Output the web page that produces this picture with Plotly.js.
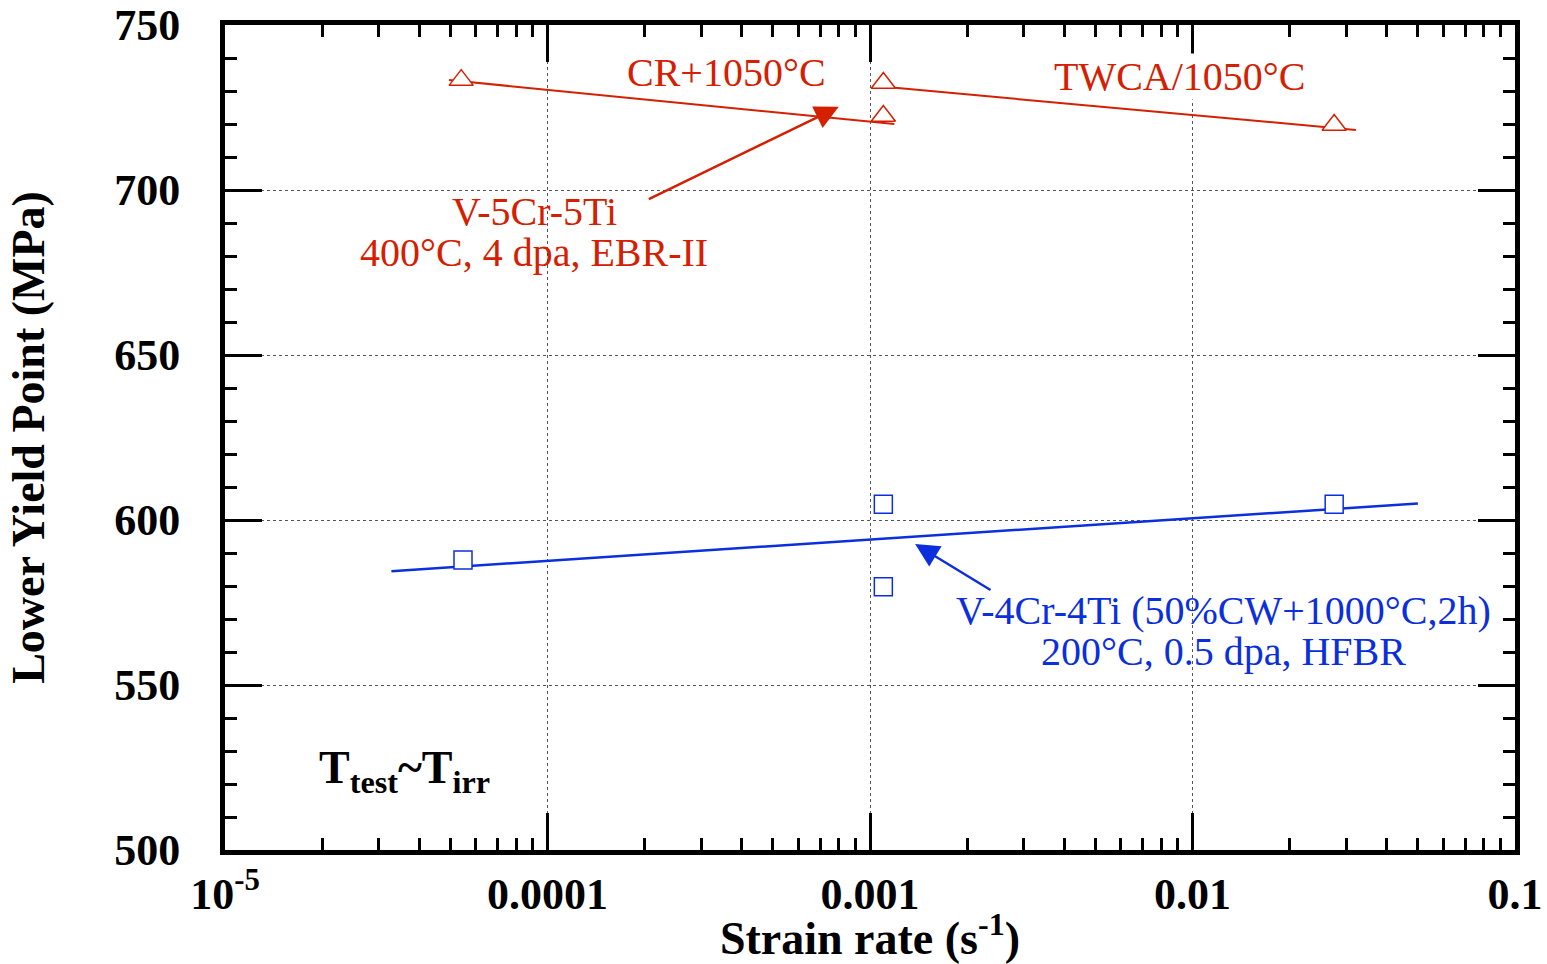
<!DOCTYPE html>
<html>
<head>
<meta charset="utf-8">
<script src="https://cdn.plot.ly/plotly-3.0.1.min.js"></script>
<style>
  html, body { margin: 0; padding: 0; background: #fff; }
  #chart { width: 1547px; height: 964px; }
</style>
</head>
<body>
<div id="chart"></div>
<script>
// Lower yield point vs. strain rate for irradiated vanadium alloys

// V-5Cr-5Ti, CR+1050°C
const crRate = [5.4e-5, 1.1e-3];
const crYield = [733.3, 722.4];
// V-5Cr-5Ti, TWCA/1050°C
const twcaRate = [1.1e-3, 0.0275];
const twcaYield = [732.4, 719.7];
// V-4Cr-4Ti (50%CW+1000°C,2h)
const v4Rate = [5.47e-5, 1.1e-3, 1.1e-3, 0.0275];
const v4Yield = [587.9, 604.8, 579.8, 604.8];

// Fitted trend lines (end points)
const crFitRate = [4.95e-5, 1.19e-3];
const crFitYield = [733.3, 720.0];
const twcaFitRate = [1.15e-3, 0.0321];
const twcaFitYield = [731.1, 718.2];
const v4FitRate = [3.28e-5, 0.05];
const v4FitYield = [584.5, 605.0];

// Axis ticks
const xTickVals = [1e-5, 1e-4, 1e-3, 1e-2, 1e-1];
const xTickText = ['10<sup>-5</sup>', '0.0001', '0.001', '0.01', '0.1'];
const yRange = [500, 750];

const RED = '#d42000';
const BLUE = '#0b2fdc';
const SERIF = 'Liberation Serif, Times New Roman, serif';

// minor ticks 2..9 within each decade
const xMinor = [];
for (let e = -5; e < -1; e++) {
  for (let m = 2; m <= 9; m++) xMinor.push(m * Math.pow(10, e));
}

const traces = [
  { x: crFitRate, y: crFitYield, mode: 'lines', line: { color: RED, width: 2 }, hoverinfo: 'skip' },
  { x: twcaFitRate, y: twcaFitYield, mode: 'lines', line: { color: RED, width: 2 }, hoverinfo: 'skip' },
  { x: v4FitRate, y: v4FitYield, mode: 'lines', line: { color: BLUE, width: 2.5 }, hoverinfo: 'skip' },
  { x: crRate, y: crYield, mode: 'markers', name: 'CR+1050°C',
    marker: { symbol: 'triangle-up', size: 21, color: 'white', line: { color: RED, width: 1.5 } } },
  { x: twcaRate, y: twcaYield, mode: 'markers', name: 'TWCA/1050°C',
    marker: { symbol: 'triangle-up', size: 21, color: 'white', line: { color: RED, width: 1.5 } } },
  { x: v4Rate, y: v4Yield, mode: 'markers', name: 'V-4Cr-4Ti',
    marker: { symbol: 'square', size: 18, color: 'white', line: { color: BLUE, width: 1.5 } } }
];

const lg = Math.log10;

const annotations = [
  { x: lg(3.58e-4), y: 735.5, text: 'CR+1050°C', showarrow: false,
    font: { family: SERIF, size: 40, color: RED } },
  { x: lg(9.14e-3), y: 734.5, text: 'TWCA/1050°C', showarrow: false, bgcolor: 'white', borderpad: 0,
    font: { family: SERIF, size: 40, color: RED } },
  { x: lg(9.1e-5), y: 693.6, text: 'V-5Cr-5Ti', showarrow: false,
    font: { family: SERIF, size: 40, color: RED } },
  { x: lg(9.1e-5), y: 681.2, text: '400°C, 4 dpa, EBR-II', showarrow: false,
    font: { family: SERIF, size: 40, color: RED } },
  { x: lg(1.25e-2), y: 572.5, text: 'V-4Cr-4Ti (50%CW+1000°C,2h)', showarrow: false,
    font: { family: SERIF, size: 40, color: BLUE } },
  { x: lg(1.25e-2), y: 560.1, text: '200°C, 0.5 dpa, HFBR', showarrow: false,
    font: { family: SERIF, size: 40, color: BLUE } },
  // red pointer
  { x: lg(8.0e-4), y: 725.2, ax: lg(2.04e-4), ay: 697, axref: 'x', ayref: 'y', text: '',
    showarrow: true, arrowhead: 2, arrowsize: 1.9, arrowwidth: 2.5, arrowcolor: RED },
  // blue pointer
  { x: lg(1.38e-3), y: 592.7, ax: lg(2.39e-3), ay: 578.5, axref: 'x', ayref: 'y', text: '',
    showarrow: true, arrowhead: 2, arrowsize: 1.9, arrowwidth: 2.5, arrowcolor: BLUE },
  { x: lg(3.6e-5), y: 524, text: '<b>T<sub>test</sub>~T<sub>irr</sub></b>', showarrow: false,
    font: { family: SERIF, size: 46, color: 'black' } }
];

const layout = {
  width: 1547, height: 964,
  margin: { l: 225, r: 32, t: 25, b: 114 },
  paper_bgcolor: 'white', plot_bgcolor: 'white',
  showlegend: false,
  xaxis: {
    type: 'log', range: [-5, -1],
    tickmode: 'array', tickvals: xTickVals, ticktext: xTickText,
    ticks: 'inside', ticklen: 37, tickwidth: 3, tickcolor: 'black',
    showline: true, linewidth: 5, linecolor: 'black', mirror: 'ticks',
    showgrid: true, gridcolor: '#555', gridwidth: 1, griddash: 'dot',
    zeroline: false,
    minor: { tickmode: 'array', tickvals: xMinor, ticks: 'inside', ticklen: 12, tickwidth: 3, tickcolor: 'black', showgrid: false },
    tickfont: { family: SERIF, size: 44, weight: 'bold', color: 'black' },
    ticklabelstandoff: 1,
    title: { text: 'Strain rate (s<sup>-1</sup>)', standoff: 15,
      font: { family: SERIF, size: 46, weight: 'bold', color: 'black' } }
  },
  yaxis: {
    range: yRange, dtick: 50, tick0: 500,
    ticks: 'inside', ticklen: 37, tickwidth: 3, tickcolor: 'black',
    showline: true, linewidth: 5, linecolor: 'black', mirror: 'ticks',
    showgrid: true, gridcolor: '#555', gridwidth: 1, griddash: 'dot',
    zeroline: false,
    minor: { dtick: 10, ticks: 'inside', ticklen: 12, tickwidth: 3, tickcolor: 'black', showgrid: false },
    tickfont: { family: SERIF, size: 44, weight: 'bold', color: 'black' },
    ticklabelstandoff: 31,
    title: { text: 'Lower Yield Point (MPa)', standoff: 57,
      font: { family: SERIF, size: 46, weight: 'bold', color: 'black' } }
  },
  annotations: annotations
};

Plotly.newPlot('chart', traces, layout, { staticPlot: true, displayModeBar: false });
</script>
</body>
</html>
